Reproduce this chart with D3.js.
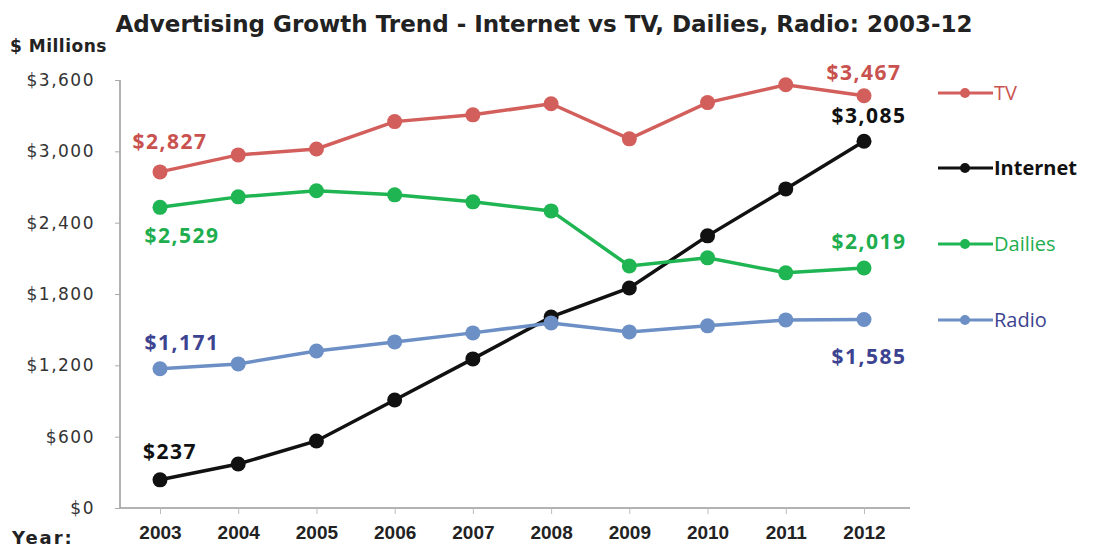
<!DOCTYPE html>
<html>
<head>
<meta charset="utf-8">
<script src="https://cdn.jsdelivr.net/npm/d3@7"></script>
<style>
  body { margin: 0; background: #fff; }
  svg { display: block; font-family: "Open Sans", "Liberation Sans", sans-serif; }
</style>
</head>
<body>
<svg id="chart" width="1094" height="550"></svg>
<script>
var years = ["2003","2004","2005","2006","2007","2008","2009","2010","2011","2012"];
var yTicks = [0, 600, 1200, 1800, 2400, 3000, 3600];
var tv = [2827, 2970, 3020, 3250, 3307, 3400, 3105, 3410, 3560, 3467];
var internet = [237, 370, 564, 909, 1254, 1607, 1851, 2289, 2684, 3085];
var dailies = [2529, 2617, 2668, 2634, 2575, 2499, 2036, 2104, 1978, 2019];
var radio = [1171, 1212, 1321, 1397, 1473, 1557, 1481, 1532, 1582, 1585];
var seriesNames = ["TV", "Internet", "Dailies", "Radio"];

var svg = d3.select("#chart");
var margin = {left: 120, top: 80, right: 910, bottom: 508};

var x = d3.scalePoint().domain(years).range([160, 864]);
var y = d3.scaleLinear().domain([0, 3600]).range([margin.bottom, margin.top]);
var fmt = function(v) { return "$" + d3.format(",")(v); };

var series = [
  {name: "TV", values: tv, color: "#d35f5c", label: "#c9524f", legendY: 93},
  {name: "Internet", values: internet, color: "#111111", label: "#111111", legendY: 168},
  {name: "Dailies", values: dailies, color: "#1fb552", label: "#1fae4f", legendY: 244},
  {name: "Radio", values: radio, color: "#6c8fc6", label: "#3c4390", legendY: 320}
];

// title
svg.append("text").attr("x", 544).attr("y", 32).attr("text-anchor", "middle")
  .attr("font-family", "DejaVu Sans, Verdana, sans-serif").attr("font-weight", "bold")
  .attr("font-size", 23).attr("fill", "#222")
  .text("Advertising Growth Trend - Internet vs TV, Dailies, Radio: 2003-12");
svg.append("text").attr("x", 10).attr("y", 52)
  .attr("font-family", "DejaVu Sans, Verdana, sans-serif").attr("font-weight", "bold")
  .attr("font-size", 17).attr("letter-spacing", 0.5).attr("fill", "#222").text("$ Millions");
svg.append("text").attr("x", 12).attr("y", 544)
  .attr("font-family", "DejaVu Sans, Verdana, sans-serif").attr("font-weight", "bold")
  .attr("font-size", 18).attr("letter-spacing", 2).attr("fill", "#222").text("Year:");

// y axis
var yAxis = svg.append("g").attr("transform", "translate(" + margin.left + ",0)")
  .call(d3.axisLeft(y).tickValues(yTicks).tickFormat(fmt).tickSize(5).tickPadding(20));
yAxis.select(".domain").attr("stroke", "#999").attr("stroke-width", 1.5).attr("d", "M0," + y(3600) + "V" + y(0));
yAxis.selectAll(".tick line").attr("stroke", "#aaa");
yAxis.selectAll("text").attr("font-size", 17).attr("fill", "#333")
  .attr("font-family", "DejaVu Sans, Verdana, sans-serif").attr("letter-spacing", 1.5);

// x axis
var xAxis = svg.append("g").attr("transform", "translate(0," + margin.bottom + ")")
  .call(d3.axisBottom(x).tickSize(6).tickPadding(10));
xAxis.select(".domain").attr("stroke", "#999").attr("stroke-width", 1.5)
  .attr("d", "M" + margin.left + ",0H" + margin.right);
xAxis.selectAll(".tick line").attr("stroke", "#bbb");
xAxis.selectAll("text").attr("font-size", 19).attr("font-weight", "bold").attr("fill", "#222")
  .attr("dy", "0.8em");

// lines
var line = d3.line().x(function(d, i) { return x(years[i]); }).y(function(d) { return y(d); });
series.forEach(function(s) {
  var g = svg.append("g");
  g.append("path").attr("d", line(s.values)).attr("fill", "none")
    .attr("stroke", s.color).attr("stroke-width", 3.5);
  g.selectAll("circle").data(s.values).enter().append("circle")
    .attr("cx", function(d, i) { return x(years[i]); })
    .attr("cy", function(d) { return y(d); })
    .attr("r", 7.5).attr("fill", s.color);

  // legend
  var lg = svg.append("g").attr("transform", "translate(938," + s.legendY + ")");
  lg.append("line").attr("x1", 0).attr("x2", 55).attr("stroke", s.color).attr("stroke-width", 3);
  lg.append("circle").attr("cx", 27).attr("r", 5).attr("fill", s.color);
  lg.append("text").attr("x", 56).attr("dy", "0.35em").attr("font-size", 20)
    .attr("font-weight", s.name === "Internet" ? "bold" : "normal")
    .attr("fill", s.label).text(s.name);
});

// endpoint labels
var labels = [
  {s: 0, i: 0, dx: 10, dy: -30},
  {s: 0, i: 9, dx: 0, dy: -23},
  {s: 1, i: 0, dx: 10, dy: -28},
  {s: 1, i: 9, dx: 5, dy: -26},
  {s: 2, i: 0, dx: 22, dy: 28},
  {s: 2, i: 9, dx: 5, dy: -26},
  {s: 3, i: 0, dx: 22, dy: -26},
  {s: 3, i: 9, dx: 5, dy: 37}
];
labels.forEach(function(l) {
  var s = series[l.s];
  svg.append("text")
    .attr("x", x(years[l.i]) + l.dx)
    .attr("y", y(s.values[l.i]) + l.dy)
    .attr("text-anchor", "middle").attr("dy", "0.35em")
    .attr("font-size", 21).attr("font-weight", "bold").attr("letter-spacing", 1.5)
    .attr("fill", s.label).text(fmt(s.values[l.i]));
});
</script>
</body>
</html>
